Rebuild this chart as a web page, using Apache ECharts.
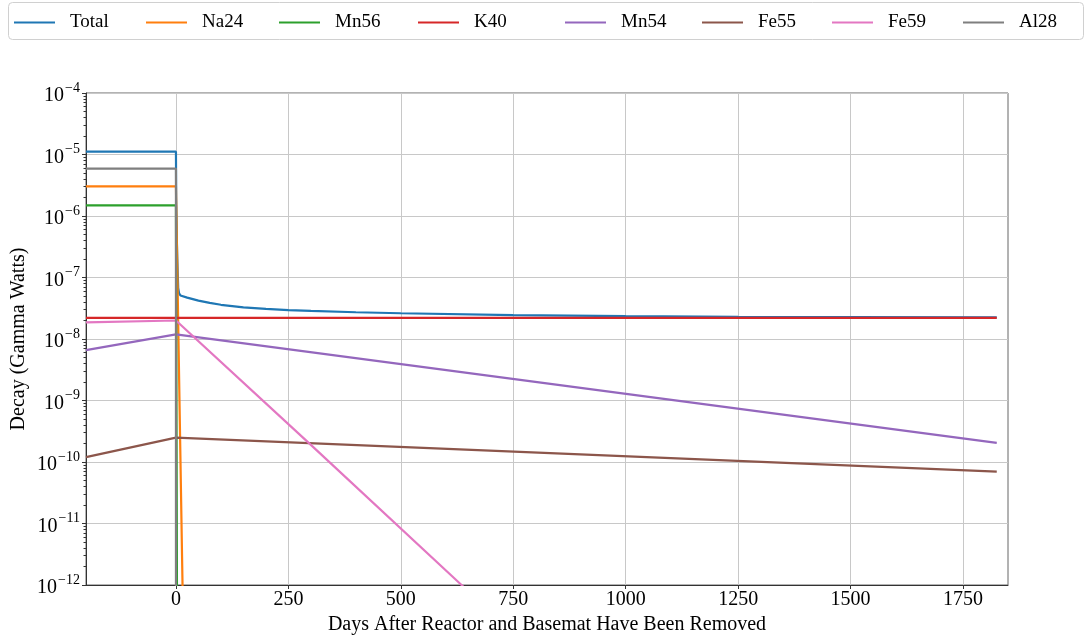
<!DOCTYPE html>
<html><head><meta charset="utf-8">
<script src="https://cdn.jsdelivr.net/npm/echarts@6/dist/echarts.min.js"></script>
<style>html,body{margin:0;padding:0;background:#fff}#c{width:1085px;height:635px}</style>
</head><body><div id="c"></div>
<script>
const seriesNames = ['Total','Na24','Mn56','K40','Mn54','Fe55','Fe59','Al28'];
const colors = ['#1f77b4','#ff7f0e','#2ca02c','#d62728','#9467bd','#8c564b','#e377c2','#7f7f7f'];
const xTicks = [0,250,500,750,1000,1250,1500,1750];

const total = [[-200,1.11e-5],[0,1.11e-5],[0.5,2.0e-6],[1,1.1e-6],[2,4.0e-7],[3,2.0e-7],[5,6.8e-8],[7,5.5e-8],[10,5.1e-8],[25,4.7e-8],[50,4.2e-8],[75,3.86e-8],[100,3.6e-8],[150,3.27e-8],[200,3.08e-8],[250,2.95e-8],[300,2.86e-8],[400,2.72e-8],[500,2.62e-8],[750,2.45e-8],[1000,2.35e-8],[1250,2.29e-8],[1500,2.26e-8],[1825,2.24e-8]];
const na24 = [[-200,3.03e-6],[0,3.03e-6],[15,7e-13],[30,1.6e-19]];
const mn56 = [[-200,1.49e-6],[0,1.49e-6],[3,5e-15]];
const k40 = [[-200,2.21e-8],[1825,2.21e-8]];
const mn54 = [[-200,6.6e-9],[0,1.19e-8],[1825,2.05e-10]];
const fe55 = [[-200,1.2e-10],[0,2.49e-10],[1825,7.0e-11]];
const fe59 = [[-200,1.86e-8],[0,2.0e-8],[300,1.9e-10],[635,1e-12],[700,3.6e-13]];
const al28 = [[-200,5.9e-6],[0,5.9e-6],[0.1,1e-19]];
const allData = [total,na24,mn56,k40,mn54,fe55,fe59,al28];

const legendLeft = [14,146,279,418,565,702,832,963];
const font = 'Liberation Serif';

const chart = echarts.init(document.getElementById('c'), null, {renderer:'canvas'});
const option = {
  animation:false,
  backgroundColor:'#fff',
  textStyle:{fontFamily:font},
  graphic:[{type:'rect',shape:{x:8.5,y:2.5,width:1075,height:37,r:4},style:{fill:'#fff',stroke:'#d0d0d0',lineWidth:1},z:-1}],
  legend: seriesNames.map((n,i)=>({
    data:[n], left:legendLeft[i], top:13, padding:0, itemWidth:41, itemHeight:14, itemGap:14,
    textStyle:{fontFamily:font,fontSize:19,color:'#000',padding:[0,0,0,10]},
    icon:'path://M0,6 L41,6 L41,8.2 L0,8.2 Z'
  })),
  grid:{left:86,right:77,top:93,bottom:50,show:true,borderColor:'#666',borderWidth:1,containLabel:false,outerBoundsMode:'none'},
  xAxis:{
    type:'value', min:-200, max:1850,
    name:'Days After Reactor and Basemat Have Been Removed', nameLocation:'middle', nameGap:26,
    nameTextStyle:{fontFamily:font,fontSize:20,color:'#000'},
    axisLine:{onZero:false,lineStyle:{color:'#333'}},
    axisTick:{show:true,length:4,lineStyle:{color:'#333'},customValues:xTicks},
    axisLabel:{fontFamily:font,fontSize:20,color:'#000',margin:5,customValues:xTicks,formatter:function(v){return String(v);}},
    splitLine:{show:true,lineStyle:{color:'#c8c8c8',width:1}}
  },
  yAxis:{
    type:'log', logBase:10, min:1e-12, max:1e-4,
    name:'Decay (Gamma Watts)', nameLocation:'middle', nameGap:57, nameMoveOverlap:false,
    nameTextStyle:{fontFamily:font,fontSize:20,color:'#000'},
    axisLine:{show:true,onZero:false,lineStyle:{color:'#333'}},
    axisTick:{show:true,length:4,lineStyle:{color:'#333'}},
    minorTick:{show:true,splitNumber:9,length:2.5,lineStyle:{color:'#333'}},
    axisLabel:{margin:6,
      formatter:function(v){const e=Math.round(Math.log10(v));return '{b|10}{e|'+(e<0?'\u2212':'')+Math.abs(e)+'}';},
      rich:{b:{fontFamily:font,fontSize:20,color:'#000',padding:[6,0,0,0]},e:{fontFamily:font,fontSize:14,color:'#000',padding:[0,0,10,1]}}},
    splitLine:{show:true,lineStyle:{color:'#c8c8c8',width:1}}
  },
  series: seriesNames.map((n,i)=>({
    name:n, type:'line', data:allData[i], symbol:'none', showSymbol:false,
    lineStyle:{color:colors[i],width:2.2}, itemStyle:{color:colors[i]}, clip:true
  }))
};
chart.setOption(option);
</script></body></html>
